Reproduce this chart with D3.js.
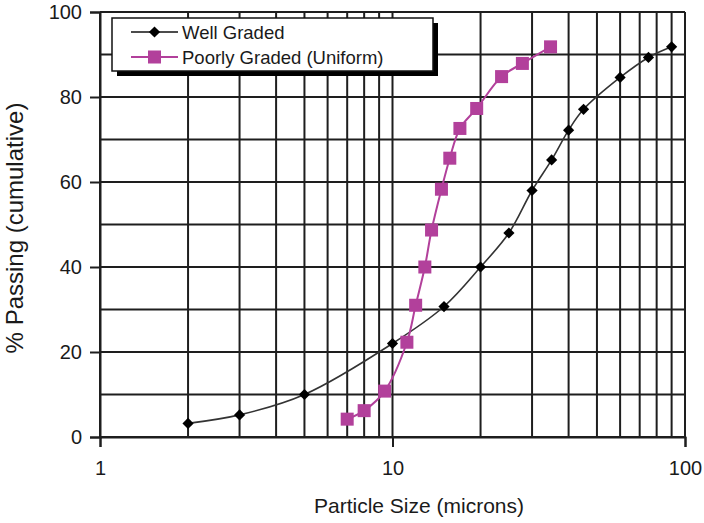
<!DOCTYPE html>
<html>
<head>
<meta charset="utf-8">
<script src="https://cdn.jsdelivr.net/npm/d3@7"></script>
<style>
  html, body { margin: 0; padding: 0; background: #fff; }
  svg { display: block; font-family: "Liberation Sans", Arial, sans-serif; }
</style>
</head>
<body>
<svg id="chart" width="704" height="523"></svg>
<script>
// Cumulative particle size distributions (size in microns, % passing)
const wellSize    = [2, 3, 5, 10, 15, 20, 25, 30, 35, 40, 45, 60, 75, 90];
const wellPassing = [3.2, 5.2, 10, 22, 30.7, 40, 48, 58, 65.2, 72.2, 77.1, 84.6, 89.3, 91.8];

const poorSize    = [7, 8, 9.4, 11.2, 12, 12.9, 13.6, 14.7, 15.7, 17, 19.4, 23.6, 27.8, 34.7];
const poorPassing = [4.2, 6.2, 10.8, 22.3, 31, 40, 48.7, 58.3, 65.6, 72.6, 77.3, 84.8, 87.9, 91.8];

const seriesNames = ["Well Graded", "Poorly Graded (Uniform)"];
const xTickValues = [1, 10, 100];
const yTickValues = [0, 20, 40, 60, 80, 100];
const xTitle = "Particle Size (microns)";
const yTitle = "% Passing (cumulative)";

const svg = d3.select("#chart");
const plot = { left: 100, right: 685, top: 12, bottom: 437 };

const x = d3.scaleLog().domain([1, 100]).range([plot.left, plot.right]);
const y = d3.scaleLinear().domain([0, 100]).range([plot.bottom, plot.top]);

const gridColor = "#1e1e1e";
const textColor = "#1a1a1a";
const pink = "#b2409b";

// vertical grid at every log step
const xGrid = [];
for (let d = 1; d < 100; d *= 10) for (let k = 1; k <= 10; k++) xGrid.push(d * k);
const xGridVals = Array.from(new Set(xGrid));
// horizontal grid every 10 %
const yGridVals = d3.range(0, 101, 10);

const grid = svg.append("g");
grid.selectAll("line.v").data(xGridVals).join("line")
  .attr("x1", d => x(d)).attr("x2", d => x(d))
  .attr("y1", y(100)).attr("y2", y(0))
  .attr("stroke", gridColor).attr("stroke-width", 2);
grid.selectAll("line.h").data(yGridVals).join("line")
  .attr("x1", x(1)).attr("x2", x(100))
  .attr("y1", d => y(d)).attr("y2", d => y(d))
  .attr("stroke", gridColor).attr("stroke-width", 2);

// axes with outward ticks
const xAxis = d3.axisBottom(x).tickValues(xTickValues).tickFormat(d3.format("d"))
  .tickSize(10).tickPadding(14);
const yAxis = d3.axisLeft(y).tickValues(yTickValues).tickFormat(d3.format("d"))
  .tickSize(10).tickPadding(8);

const gx = svg.append("g").attr("transform", `translate(0,${plot.bottom})`).call(xAxis);
const gy = svg.append("g").attr("transform", `translate(${plot.left},0)`).call(yAxis);
[gx, gy].forEach(g => {
  g.select(".domain").attr("stroke", gridColor).attr("stroke-width", 2);
  g.selectAll(".tick line").attr("stroke", gridColor).attr("stroke-width", 2);
  g.selectAll(".tick text").attr("fill", textColor).style("font-size", "20px")
    .style("font-family", "'Liberation Sans', Arial, sans-serif");
});

// axis titles
svg.append("text")
  .attr("x", 419).attr("y", 513)
  .attr("text-anchor", "middle").attr("fill", textColor).style("font-size", "21px")
  .text(xTitle);
svg.append("text")
  .attr("transform", `translate(23,228) rotate(-90)`)
  .attr("text-anchor", "middle").attr("fill", textColor).style("font-size", "24px")
  .text(yTitle);

const well = wellSize.map((s, i) => ({ s, p: wellPassing[i] }));
const poor = poorSize.map((s, i) => ({ s, p: poorPassing[i] }));

const line = d3.line().x(d => x(d.s)).y(d => y(d.p)).curve(d3.curveCatmullRom.alpha(0.5));

// Well graded curve
svg.append("path").datum(well).attr("d", line)
  .attr("fill", "none").attr("stroke", "#333").attr("stroke-width", 1.6);
// Poorly graded curve
svg.append("path").datum(poor).attr("d", line)
  .attr("fill", "none").attr("stroke", pink).attr("stroke-width", 2);

const diamond = d3.symbol().type(d3.symbolDiamond2).size(80);

svg.append("g").selectAll("path").data(well).join("path")
  .attr("transform", d => `translate(${x(d.s)},${y(d.p)})`)
  .attr("d", diamond).attr("fill", "#000");

const sq = 13;
svg.append("g").selectAll("rect").data(poor).join("rect")
  .attr("x", d => x(d.s) - sq / 2).attr("y", d => y(d.p) - sq / 2)
  .attr("width", sq).attr("height", sq).attr("fill", pink);

// legend with drop shadow
const lg = svg.append("g");
const lx = 112, ly = 18, lw = 321, lh = 53;
lg.append("rect").attr("x", lx + 5).attr("y", ly + 5).attr("width", lw).attr("height", lh).attr("fill", "#000");
lg.append("rect").attr("x", lx).attr("y", ly).attr("width", lw).attr("height", lh)
  .attr("fill", "#fff").attr("stroke", "#111").attr("stroke-width", 1.5);

const rows = [
  { name: seriesNames[0], color: "#111", marker: "diamond", w: 1.6 },
  { name: seriesNames[1], color: pink, marker: "square", w: 2 }
];
rows.forEach((r, i) => {
  const cy = ly + 14 + i * 25;
  lg.append("line").attr("x1", 131).attr("x2", 178).attr("y1", cy).attr("y2", cy)
    .attr("stroke", r.color).attr("stroke-width", r.w);
  if (r.marker === "diamond") {
    lg.append("path").attr("transform", `translate(154.5,${cy})`).attr("d", diamond).attr("fill", "#000");
  } else {
    lg.append("rect").attr("x", 154.5 - sq / 2).attr("y", cy - sq / 2).attr("width", sq).attr("height", sq).attr("fill", pink);
  }
  lg.append("text").attr("x", 182).attr("y", cy + 6.5).attr("fill", textColor)
    .style("font-size", "18.5px").text(r.name);
});
</script>
</body>
</html>
